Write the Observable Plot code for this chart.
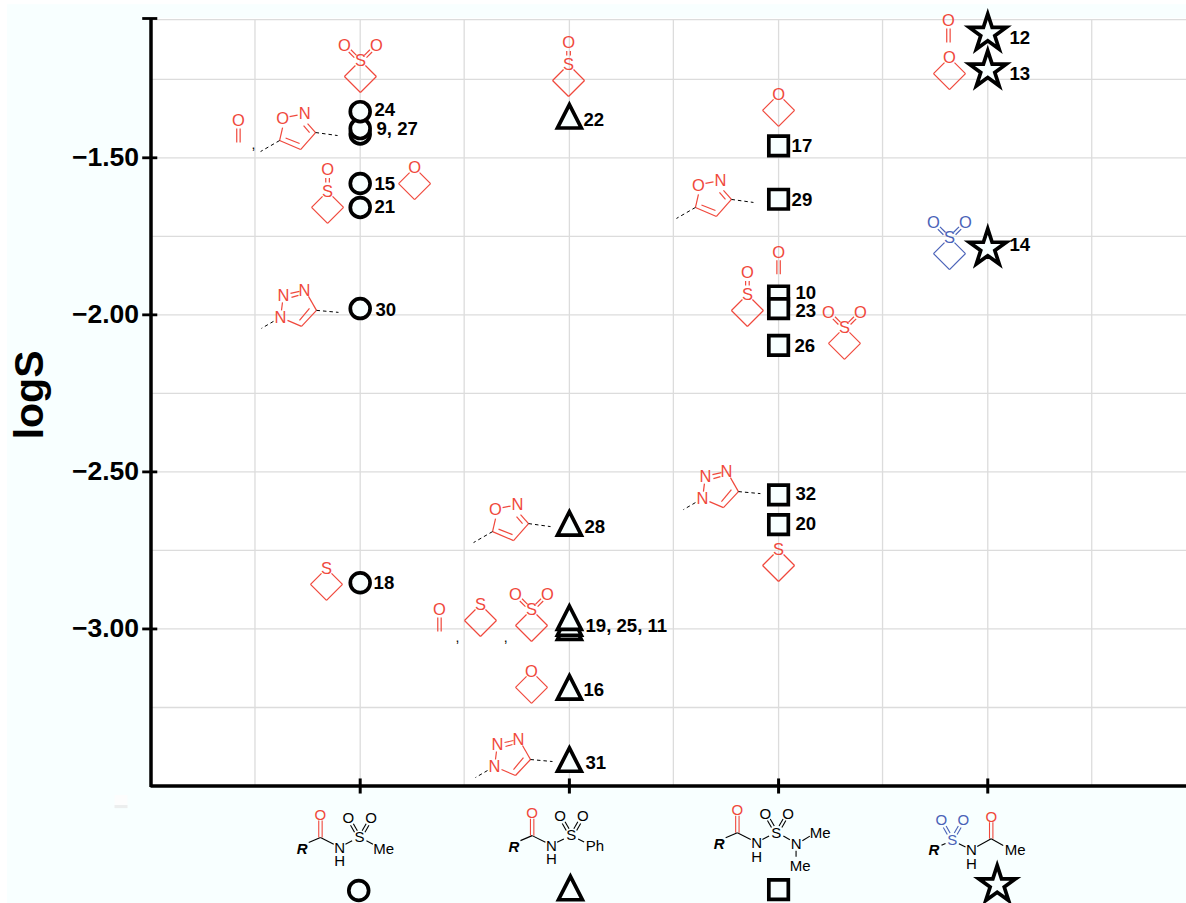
<!DOCTYPE html>
<html>
<head>
<meta charset="utf-8">
<script src="https://cdn.jsdelivr.net/npm/d3@7"></script>
<script src="https://cdn.jsdelivr.net/npm/@observablehq/plot@0.6"></script>
<style>
html,body{margin:0;padding:0;background:#fff}
svg{display:block}
</style>
</head>
<body>
<div id="chart"></div>
<script>
// ---- measured values (logS) per acyl-sulfonamide class, drawn in listed order
const circleLogS   = [-1.424, -1.407, -1.353, -1.582, -1.658, -1.98, -2.853];
const triangleLogS = [-1.382, -2.678, -3.01, -2.997, -2.978, -3.2, -3.43];
const squareLogS   = [-1.462, -1.632, -1.94, -1.98, -2.097, -2.573, -2.668];
const starLogS     = [-1.104, -1.221, -1.788];

// ---- compound number labels
const labelText = ["24","9, 27","15","21","30","18","22","28","19, 25, 11","16","31","17","29","10","23","26","32","20","12","13","14"];
const labelX    = [1.068,1.078,1.068,1.068,1.073,1.064,2.067,2.072,2.077,2.067,2.077,3.062,3.062,3.081,3.081,3.076,3.081,3.081,4.104,4.104,4.104];
const labelLogS = [-1.349,-1.41,-1.582,-1.658,-1.986,-2.855,-1.381,-2.677,-2.992,-3.196,-3.428,-1.464,-1.636,-1.929,-1.989,-2.098,-2.572,-2.667,-1.12,-1.232,-1.779];

// ---- axis ticks
const yMajor = [-1.5,-2,-2.5,-3];
const yTickMarks = [-1.0565,-1.5,-2,-2.5,-3];
const yGrid = [-1.06,-1.25,-1.5,-1.75,-2,-2.25,-2.5,-2.75,-3,-3.25];
const xTicks = [1,2,3,4];
const xGrid = [0.497,1,1.497,2,2.497,3,3.497,4,4.497];

// ---- colours
const BLACK="#000", RED="#f0483c", BLUE="#4a62b8", AZURE="#f8ffff", GRID="#dcdcdc";
const FONT='"Liberation Sans",Arimo,Helvetica,Arial,sans-serif';

// ---- structure fragments, in drawing units relative to an anchor
const RING4=[[-16,0,0,16],[0,16,16,0],[16,0,5,-11],[-16,0,-5,-11]];
const fragments={
  oxetane:{bonds:RING4,atoms:[["O",0,-15.5]]},
  thietane:{bonds:RING4,atoms:[["S",0,-15.5]]},
  sulfoxide:{bonds:[...RING4,[-1.8,-29.5,-1.8,-25],[1.8,-29.5,1.8,-25]],atoms:[["S",0,-15.5],["O",0,-38]]},
  sulfone:{bonds:[...RING4,[-3.9,-21.1,-9.5,-26.7],[-6.1,-18.9,-11.7,-24.5],[3.9,-21.1,9.5,-26.7],[6.1,-18.9,11.7,-24.5]],atoms:[["S",0,-15.5],["O",-16,-31],["O",16,-31]]},
  carbonyl:{bonds:[[-1.7,8,-1.7,22],[1.7,8,1.7,22]],atoms:[["O",0,0]]},
  isoxazole:{bonds:[[7,-2,15,-3.5],[25,5,33,14],[21,7,27,14],[33,14,18,31],[18,31,-3,22],[17,25,3,19.5],[-3,22,0,9]],atoms:[["O",0,0],["N",22,-5]],dashes:[[33,14,55,17],[-3,22,-22,33]]},
  triazole:{bonds:[[1,-7,2,-15],[10,-24,19,-26],[11,-20,18,-22],[28,-21,36,-7],[36,-7,21,9],[29,-9,19,3],[21,9,7,3]],atoms:[["N",0,0],["N",3,-22],["N",24,-27]],dashes:[[36,-7,58,-5],[-7,4,-19,11]]}
};
// placement: fragment, x value, logS value, colour
const fragmentNames=["sulfone","isoxazole","carbonyl","sulfoxide","oxetane","triazole","thietane",
  "sulfoxide","isoxazole","carbonyl","thietane","sulfone","oxetane","triazole",
  "oxetane","isoxazole","carbonyl","sulfoxide","sulfone","triazole","thietane",
  "carbonyl","oxetane","sulfone"];
const fragmentX=[1.001,.629,.418,.844,1.26,.619,.839, 1.996,1.647,1.379,1.575,1.819,1.819,1.642, 3,2.617,3,2.851,3.315,2.636,3, 3.812,3.817,3.817];
const fragmentLogS=[-1.241,-1.375,-1.381,-1.658,-1.582,-2.008,-2.858, -1.254,-2.62,-2.938,-2.973,-2.989,-3.186,-3.438, -1.349,-1.588,-1.801,-1.986,-2.091,-2.585,-2.798, -1.063,-1.232,-1.805];
const fragmentColor=[RED,RED,RED,RED,RED,RED,RED, RED,RED,RED,RED,RED,RED,RED, RED,RED,RED,RED,RED,RED,RED, RED,RED,BLUE];
const commaX=[.49,1.465,1.695], commaLogS=[-1.458,-3.027,-3.027];

// ---- class structures under the axis
const acylBonds=(right)=>[
  [-11.7,5,0,0,BLACK],[0,0,13.3,6.7,BLACK],[-1.7,-17,-1.7,0,RED],[1.7,-17,1.7,0,RED],[25,6.7,31.7,3.3,BLACK],
  [36.9,-6.8,32.9,-13.8,BLACK],[34.1,-5.2,30.1,-12.2,BLACK],[41.7,-6.8,45.7,-13.8,BLACK],[44.5,-5.2,48.5,-12.2,BLACK],...right];
const acylAtoms=(right)=>[
  ["R",-18.3,11.5,BLACK,true],["O",0,-22.3,RED],["N",19.3,10.7,BLACK],["H",19.3,24,BLACK],["S",39,0,BLACK],["O",28,-19,BLACK],["O",50.7,-19,BLACK],...right];
const classStructures=[
  {x:.81,logS:-3.664,bonds:acylBonds([[46,3.3,52.5,6.7,BLACK]]),atoms:acylAtoms([["Me",63.3,11.7,BLACK]])}, 
  {x:1.822,logS:-3.658,bonds:acylBonds([[46,3.3,52,6.3,BLACK]]),atoms:acylAtoms([["Ph",62.7,11,BLACK]])},
  {x:2.803,logS:-3.649,bonds:acylBonds([[46,3.3,52.5,7,BLACK],[65,8,72.5,3.3,BLACK],[58.7,18,58.7,24,BLACK]]),atoms:acylAtoms([["N",58.7,11.7,BLACK],["Me",82.7,0,BLACK],["Me",62.7,33.7,BLACK]])},
  {x:3.83,logS:-3.671,bonds:[[-10.7,5.5,-6.7,3.7,BLACK],[6.7,4,13.3,7.3,BLACK],[25,6.7,39,-1,BLACK],[39,-1,51,5.7,BLACK],[37.3,-17.5,37.3,-1,RED],[40.7,-17.5,40.7,-1,RED],
     [-2.1,-6.8,-6.1,-13.8,BLUE],[-4.9,-5.2,-8.9,-12.2,BLUE],[2.1,-6.8,6.1,-13.8,BLUE],[4.9,-5.2,8.9,-12.2,BLUE]],
   atoms:[["R",-18.3,10.7,BLACK,true],["S",0,0,BLUE],["O",-11,-19.3,BLUE],["O",11,-19.3,BLUE],["N",19.3,10.7,BLACK],["H",19.3,24,BLACK],["O",39,-23,RED],["Me",63,10.7,BLACK]]}
];

// ---- class key symbols under the axis
const keyX=[.993,2.005,3.0,4.045];
const keyLogS=[-3.8327,-3.839,-3.83,-3.8145];

// ---- page panel
const panelX1=-.686, panelX2=4.95, panelLogS1=-3.8776, panelLogS2=-1.0125;

// ---- scale factors: drawing units to axis units
const UX=1/209.2, UY=1/314.1;

// tall triangle glyph used for the phenyl class
const tallTriangle={draw(c,s){const k=Math.sqrt(s/Math.PI)/10;
  c.moveTo(0,-15.15*k);c.lineTo(11.25*k,6.85*k);c.lineTo(-11.25*k,6.85*k);c.closePath();}};

// build link and text tables
const bonds=[], dashes=[], atoms=[];
fragmentNames.forEach((name,i)=>{
  const f=fragments[name], x=fragmentX[i], y=fragmentLogS[i], c=fragmentColor[i];
  f.bonds.forEach(b=>bonds.push({x1:x+b[0]*UX,y1:y-b[1]*UY,x2:x+b[2]*UX,y2:y-b[3]*UY,c}));
  (f.dashes||[]).forEach(b=>dashes.push({x1:x+b[0]*UX,y1:y-b[1]*UY,x2:x+b[2]*UX,y2:y-b[3]*UY}));
  f.atoms.forEach(a=>atoms.push({x:x+a[1]*UX,y:y-a[2]*UY,t:a[0],c}));
});
const headBonds=[], headAtoms=[], headR=[];
classStructures.forEach(s=>{
  s.bonds.forEach(b=>headBonds.push({x1:s.x+b[0]*UX,y1:s.logS-b[1]*UY,x2:s.x+b[2]*UX,y2:s.logS-b[3]*UY,c:b[4]}));
  s.atoms.forEach(a=>(a[4]?headR:headAtoms).push({x:s.x+a[1]*UX,y:s.logS-a[2]*UY,t:a[0],c:a[3]}));
});

const dotStyle={fill:AZURE,stroke:BLACK,strokeWidth:3.7};
const keyStyle={fill:"none",stroke:BLACK,strokeWidth:3.7};
const plot=Plot.plot({
  width:1186,height:903,
  marginLeft:150.5,marginRight:0,marginTop:18,marginBottom:117.5,
  style:{background:"#fff",fontFamily:FONT},
  x:{domain:[0,4.95],range:[150.5,1186],axis:null},
  y:{domain:[-3.5,-1.0565],range:[785.5,18],axis:null},
  color:{type:"identity"},
  marks:[
    // azure page, white plotting area
    Plot.rect([0],{x1:panelX1,x2:panelX2,y1:panelLogS1,y2:panelLogS2,fill:AZURE}),
    Plot.rect([0],{x1:0,x2:4.95,y1:-3.5,y2:-1.0565,fill:"#fff"}),
    // faint scan mark
    Plot.rect([0],{x1:-.172,x2:-.11,y1:-3.572,y2:-3.53,fill:"#fdfdfd"}),
    Plot.rect([0],{x1:-.172,x2:-.11,y1:-3.572,y2:-3.562,fill:"#eceeee"}),
    // grid
    Plot.ruleX(xGrid,{y1:-3.5,y2:-1.06,stroke:GRID,strokeWidth:1.3}),
    Plot.ruleY(yGrid,{x1:0,x2:4.95,stroke:GRID,strokeWidth:1.3}),
    // y labels and axis
    Plot.axisY({ticks:yMajor,tickFormat:d=>d.toFixed(2).replace("-","\u2212"),tickSize:0,tickPadding:12,fontSize:26.5,fontWeight:"bold",label:null,fill:BLACK,textStroke:"none",stroke:"none"}),
    Plot.text(["logS"],{x:-.578,y:-2.255,rotate:-90,fontSize:41,fontWeight:"bold",fill:BLACK}),
    Plot.ruleX([0],{y1:-3.505,y2:-1.0565,stroke:BLACK,strokeWidth:3.5}),
    Plot.ruleY([-3.5],{x1:0,x2:4.95,stroke:BLACK,strokeWidth:3.5}),
    Plot.link(yTickMarks,{x1:-.042,x2:.03,y1:d=>d,y2:d=>d,stroke:BLACK,strokeWidth:2.8}),
    Plot.link(xTicks,{x1:d=>d,x2:d=>d,y1:-3.476,y2:-3.524,stroke:BLACK,strokeWidth:3}),
    // fragments
    Plot.link(bonds,{x1:"x1",y1:"y1",x2:"x2",y2:"y2",stroke:"c",strokeWidth:1.2}),
    Plot.link(dashes,{x1:"x1",y1:"y1",x2:"x2",y2:"y2",stroke:BLACK,strokeWidth:1,strokeDasharray:"3.5,3"}),
    Plot.text(atoms,{x:"x",y:"y",text:"t",fill:"c",fontSize:16.5}),
    Plot.text(commaX,{x:d=>d,y:(d,i)=>commaLogS[i],text:()=>",",fill:BLACK,fontSize:14}),
    // data
    Plot.dot(circleLogS,{x:()=>1,y:d=>d,symbol:"circle",r:9.9,...dotStyle}),
    Plot.dot(triangleLogS,{x:()=>2,y:d=>d,symbol:tallTriangle,r:10.6,...dotStyle}),
    Plot.dot(squareLogS,{x:()=>3,y:d=>d,symbol:"square",r:11,...dotStyle}),
    Plot.dot(starLogS,{x:()=>4,y:d=>d,symbol:"star",r:11.6,...dotStyle}),
    Plot.text(labelText,{x:(d,i)=>labelX[i],y:(d,i)=>labelLogS[i],text:d=>d,textAnchor:"start",fontSize:18.6,fontWeight:"bold",fill:BLACK}),
    // class structures below the axis
    Plot.link(headBonds,{x1:"x1",y1:"y1",x2:"x2",y2:"y2",stroke:"c",strokeWidth:1.1}),
    Plot.text(headAtoms,{x:"x",y:"y",text:"t",fill:"c",fontSize:15}),
    Plot.text(headR,{x:"x",y:"y",text:"t",fill:"c",fontSize:15,fontWeight:"bold",fontStyle:"italic"}),
    Plot.dot([keyLogS[0]],{x:()=>keyX[0],y:d=>d,symbol:"circle",r:9.9,...keyStyle}),
    Plot.dot([keyLogS[1]],{x:()=>keyX[1],y:d=>d,symbol:tallTriangle,r:10.6,...keyStyle}),
    Plot.dot([keyLogS[2]],{x:()=>keyX[2],y:d=>d,symbol:"square",r:11,...keyStyle}),
    Plot.dot([keyLogS[3]],{x:()=>keyX[3],y:d=>d,symbol:"star",r:11.6,...keyStyle})
  ]
});
document.getElementById("chart").appendChild(plot);
</script>
</body>
</html>
